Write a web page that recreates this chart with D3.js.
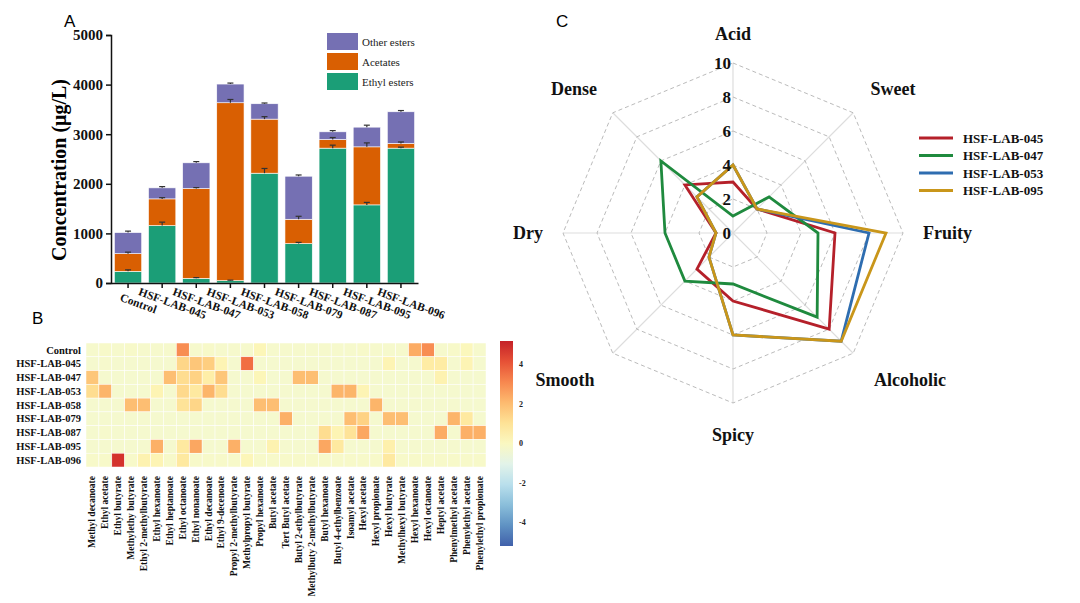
<!DOCTYPE html>
<html>
<head>
<meta charset="utf-8">
<script src="https://cdn.jsdelivr.net/npm/d3@7"></script>
<style>
  body { margin: 0; background: #fff; }
  svg { display: block; }
  .serif { font-family: "Liberation Serif", "Times New Roman", serif; font-weight: bold; }
  .panel { font-family: "Liberation Sans", Arial, sans-serif; font-size: 17px; }
</style>
</head>
<body>
<div id="chart"></div>
<script>
// ---- panel A data ----
const samples = ["Control", "HSF-LAB-045", "HSF-LAB-047", "HSF-LAB-053", "HSF-LAB-058",
  "HSF-LAB-079", "HSF-LAB-087", "HSF-LAB-095", "HSF-LAB-096"];
const ethylEsters = [235, 1157, 94, 47, 2214, 794, 2719, 1575, 2719];
const acetates = [357, 539, 1810, 3587, 1090, 491, 174, 1170, 94];
const otherEsters = [424, 222, 519, 377, 310, 868, 155, 397, 639];
const ethylErr = [30, 70, 15, 10, 95, 25, 60, 50, 20];
const acetErr = [30, 25, 20, 66, 50, 60, 40, 80, 30];
const otherErr = [30, 25, 25, 20, 15, 25, 25, 40, 25];
const yTicksA = [0, 1000, 2000, 3000, 4000, 5000];

// ---- panel B data ----
const compounds = ["Methyl decanoate", "Ethyl acetate", "Ethyl butyrate", "Methylethy butyrate",
  "Ethyl 2-methylbutyrate", "Ethyl hexanoate", "Ethyl heptanoate", "Ethyl octanoate",
  "Ethyl nonanoate", "Ethyl decanoate", "Ethyl 9-decenoate", "Propyl 2-methylbutyrate",
  "Methylpropyl butyrate", "Propyl hexanoate", "Butyl acetate", "Tert Butyl acetate",
  "Butyl 2-ethylbutyrate", "Methylbuty 2-methylbutyrate", "Butyl hexanoate",
  "Butyl 4-ethylbenzoate", "Isoamyl acetate", "Hexyl acetate", "Hexyl propionate",
  "Hexyl butyrate", "Methylhexyl butyrate", "Hexyl hexanoate", "Hexyl octanoate",
  "Heptyl acetate", "Phenylmethyl acetate", "Phenylethyl acetate", "Phenylethyl propionate"];
const rowControl = [-0.25,-0.2,-0.25,-0.2,-0.25,-0.25,-0.25,3.0,-0.25,-0.2,-0.25,-0.25,-0.25,0.2,-0.25,-0.25,-0.25,-0.25,-0.25,-0.25,-0.25,-0.2,-0.25,-0.25,-0.25,2.4,3.0,-0.25,-0.2,0.1,-0.25];
const row045 = [-0.3,-0.25,-0.3,-0.3,-0.3,-0.3,-0.3,1.4,1.8,1.6,0.3,-0.3,3.6,-0.3,-0.3,-0.3,-0.3,-0.3,-0.3,-0.3,-0.3,-0.3,-0.3,0.3,-0.3,-0.3,0.7,0.7,-0.3,0.3,-0.3];
const row047 = [1.8,-0.3,-0.3,-0.3,-0.3,-0.3,2.0,1.2,1.5,0.6,1.8,-0.3,-0.3,0.2,-0.3,-0.3,2.0,2.0,-0.3,-0.3,-0.3,-0.3,-0.3,-0.3,-0.3,-0.3,-0.3,0.4,-0.3,-0.3,-0.3];
const row053 = [1.2,2.2,-0.3,-0.3,-0.3,0.3,-0.3,1.3,0.8,2.2,1.2,-0.3,-0.3,-0.3,-0.3,-0.3,-0.3,-0.3,-0.3,2.2,2.2,0.3,-0.3,-0.3,-0.3,-0.3,-0.3,-0.3,-0.3,-0.3,-0.3];
const row058 = [-0.3,-0.3,-0.3,2.0,2.0,-0.3,-0.3,1.0,1.4,-0.3,-0.3,-0.3,-0.3,2.0,2.0,-0.3,-0.3,-0.3,-0.3,-0.3,-0.3,-0.3,2.2,-0.3,-0.3,-0.3,-0.3,-0.3,-0.3,-0.3,-0.3];
const row079 = [-0.3,-0.3,-0.3,-0.3,-0.3,-0.3,-0.3,-0.3,-0.3,-0.3,-0.3,-0.3,-0.3,-0.3,-0.3,2.3,-0.3,-0.3,-0.3,-0.3,2.0,1.5,-0.3,2.0,2.0,-0.3,-0.3,-0.3,2.2,0.8,-0.3];
const row087 = [-0.3,-0.25,-0.3,-0.3,-0.3,-0.3,-0.3,-0.3,-0.3,-0.3,-0.3,-0.3,-0.3,-0.3,-0.3,-0.3,-0.3,-0.3,1.2,0.3,1.0,2.5,-0.3,-0.3,-0.3,-0.3,-0.3,2.4,-0.3,2.3,2.3];
const row095 = [-0.3,-0.3,-0.3,-0.3,-0.3,2.3,-0.3,0.8,2.5,-0.3,-0.3,2.3,-0.3,-0.3,0.4,-0.3,-0.3,-0.3,2.5,0.8,-0.3,-0.3,-0.3,0.5,-0.3,-0.3,-0.3,-0.3,-0.3,-0.3,-0.3];
const row096 = [-0.2,-0.2,4.8,-0.2,0.4,0.3,-0.2,0.8,-0.2,-0.2,-0.2,-0.2,0.2,-0.2,-0.2,-0.2,-0.2,-0.2,-0.2,-0.2,-0.2,-0.2,-0.2,0.8,-0.2,-0.2,-0.2,-0.2,-0.2,-0.2,-0.2];
const heatRows = [rowControl, row045, row047, row053, row058, row079, row087, row095, row096];
const colorTicks = [4, 2, 0, -2, -4];

// ---- panel C data ----
const attributes = ["Acid", "Sweet", "Fruity", "Alcoholic", "Spicy", "Smooth", "Dry", "Dense"];
const radarSamples = ["HSF-LAB-045", "HSF-LAB-047", "HSF-LAB-053", "HSF-LAB-095"];
const lab045 = [3, 2, 6, 8, 4, 3, 1, 4];
const lab047 = [1, 3, 5, 7, 3, 4, 4, 6];
const lab053 = [4, 2, 8, 9, 6, 2, 1, 3];
const lab095 = [4, 2, 9, 9, 6, 2, 1, 3];
const radarLevels = [0, 2, 4, 6, 8, 10];

const svg = d3.select("#chart").append("svg").attr("width", 1080).attr("height", 603);

// panel letters
svg.append("text").attr("class", "panel").attr("x", 64).attr("y", 27).text("A");
svg.append("text").attr("class", "panel").attr("x", 32).attr("y", 324).text("B");
svg.append("text").attr("class", "panel").attr("x", 556).attr("y", 27).text("C");

// ===== Panel A: stacked bars =====
const x = d3.scaleBand().domain(samples).range([111, 418]).paddingInner(0.2).paddingOuter(0.1);
const y = d3.scaleLinear().domain([0, 5000]).range([283, 35]);
const colA = { ethyl: "#1b9e77", acet: "#d95f02", other: "#7570b3" };

const gA = svg.append("g");
const stacks = samples.map((s, i) => {
  const e = ethylEsters[i], a = acetates[i], o = otherEsters[i];
  return [
    { s, y0: 0, y1: e, c: colA.ethyl, err: ethylErr[i] },
    { s, y0: e, y1: e + a, c: colA.acet, err: acetErr[i] },
    { s, y0: e + a, y1: e + a + o, c: colA.other, err: otherErr[i] }
  ];
}).flat();

gA.selectAll("rect.bar").data(stacks).join("rect")
  .attr("class", "bar")
  .attr("x", d => x(d.s))
  .attr("width", x.bandwidth())
  .attr("y", d => y(d.y1))
  .attr("height", d => y(d.y0) - y(d.y1))
  .attr("fill", d => d.c)
  .attr("stroke", "#fff").attr("stroke-width", 0.6);

const errG = gA.selectAll("g.err").data(stacks).join("g").attr("class", "err")
  .attr("stroke", "#333").attr("stroke-width", 1.2);
errG.append("line")
  .attr("x1", d => x(d.s) + x.bandwidth() / 2).attr("x2", d => x(d.s) + x.bandwidth() / 2)
  .attr("y1", d => y(d.y1)).attr("y2", d => y(d.y1 + d.err));
errG.append("line")
  .attr("x1", d => x(d.s) + x.bandwidth() / 2 - 3).attr("x2", d => x(d.s) + x.bandwidth() / 2 + 3)
  .attr("y1", d => y(d.y1 + d.err)).attr("y2", d => y(d.y1 + d.err));

const yAxisA = gA.append("g").attr("transform", "translate(111,0)")
  .call(d3.axisLeft(y).tickValues(yTicksA).tickSize(5).tickFormat(d3.format("d")));
yAxisA.selectAll("text").attr("class", "serif").style("font-size", "15px").attr("fill", "#111");
yAxisA.select(".domain").attr("stroke", "#111").attr("stroke-width", 1.5);
yAxisA.selectAll(".tick line").attr("stroke", "#111").attr("stroke-width", 1.5);

const xAxisA = gA.append("g").attr("transform", "translate(0,283)")
  .call(d3.axisBottom(x).tickSize(5).tickSizeOuter(0));
xAxisA.select(".domain").attr("stroke", "#111").attr("stroke-width", 1.5);
xAxisA.selectAll(".tick line").attr("stroke", "#111").attr("stroke-width", 1.5);
xAxisA.selectAll("text").attr("class", "serif").style("font-size", "11.5px").attr("fill", "#111")
  .attr("text-anchor", "middle").attr("dy", 0).attr("y", 0)
  .attr("transform", "translate(9,24) rotate(20)");

gA.append("text").attr("class", "serif").attr("transform", "translate(59,170) rotate(-90)")
  .attr("text-anchor", "middle").attr("dy", "0.35em").style("font-size", "20px").text("Concentration (μg/L)");

const legA = [["Other esters", colA.other], ["Acetates", colA.acet], ["Ethyl esters", colA.ethyl]];
const lg = gA.selectAll("g.leg").data(legA).join("g").attr("class", "leg")
  .attr("transform", (d, i) => `translate(327,${33 + i * 20})`);
lg.append("rect").attr("width", 31).attr("height", 17).attr("fill", d => d[1]);
lg.append("text").attr("x", 35).attr("y", 13)
  .style("font-family", "Liberation Serif, serif").style("font-size", "11px").attr("fill", "#222")
  .text(d => d[0]);

// ===== Panel B: heatmap =====
const hx = d3.scaleBand().domain(compounds).range([86, 486]);
const hy = d3.scaleBand().domain(samples).range([343, 467]);
const heatColor = d3.scaleSequential(t => d3.interpolateRdYlBu(1 - t)).domain([-6, 6]);

const cells = heatRows.flatMap((row, r) => row.map((v, c) => ({ s: samples[r], c: compounds[c], v })));
svg.append("g").selectAll("rect").data(cells).join("rect")
  .attr("x", d => hx(d.c)).attr("y", d => hy(d.s))
  .attr("width", hx.bandwidth()).attr("height", hy.bandwidth())
  .attr("fill", d => heatColor(d.v))
  .attr("stroke", "#fff").attr("stroke-width", 0.5);

svg.append("g").selectAll("text").data(samples).join("text")
  .attr("class", "serif").attr("x", 81).attr("y", d => hy(d) + hy.bandwidth() / 2)
  .attr("dy", "0.35em").attr("text-anchor", "end").style("font-size", "10.5px").attr("fill", "#111")
  .text(d => d);

svg.append("g").selectAll("text").data(compounds).join("text")
  .attr("class", "serif")
  .attr("transform", d => `translate(${hx(d) + hx.bandwidth() / 2 + 3},476) rotate(-90)`)
  .attr("text-anchor", "end").style("font-size", "9.5px").attr("fill", "#111")
  .text(d => d);

// colour bar
const cb = d3.scaleLinear().domain([-5.2, 5.2]).range([546, 341]);
const defs = svg.append("defs");
const grad = defs.append("linearGradient").attr("id", "cbar").attr("x1", 0).attr("x2", 0).attr("y1", 1).attr("y2", 0);
d3.range(0, 1.0001, 0.1).forEach(t => {
  grad.append("stop").attr("offset", t).attr("stop-color", heatColor(-5.2 + t * 10.4));
});
svg.append("rect").attr("x", 500).attr("y", 341).attr("width", 13).attr("height", 205).attr("fill", "url(#cbar)");
svg.append("g").selectAll("text").data(colorTicks).join("text")
  .attr("class", "serif").attr("x", 519).attr("y", d => cb(d)).attr("dy", "0.35em")
  .style("font-size", "8px").attr("fill", "#222").text(d => d);

// ===== Panel C: radar =====
const cx = 733, cy = 233;
const rr = d3.scaleLinear().domain([0, 10]).range([0, 170]);
const ang = i => i * Math.PI / 4;
const gC = svg.append("g").attr("transform", `translate(${cx},${cy})`);

gC.selectAll("line.spoke").data(attributes).join("line").attr("class", "spoke")
  .attr("x1", 0).attr("y1", 0)
  .attr("x2", (d, i) => rr(10) * Math.sin(ang(i)))
  .attr("y2", (d, i) => -rr(10) * Math.cos(ang(i)))
  .attr("stroke", "#ddd").attr("stroke-width", 1.2);

const ring = d3.lineRadial().angle((d, i) => ang(i)).radius(d => rr(d)).curve(d3.curveLinearClosed);
gC.selectAll("path.grid").data(radarLevels.slice(1)).join("path").attr("class", "grid")
  .attr("d", lv => ring(attributes.map(() => lv)))
  .attr("fill", "none").attr("stroke", "#bbb").attr("stroke-width", 1).attr("stroke-dasharray", "4,3");

const radarColors = ["#b5202a", "#1f8a3e", "#2e6db0", "#c9961a"];
const radarData = [lab045, lab047, lab053, lab095];
gC.selectAll("path.series").data(radarData).join("path").attr("class", "series")
  .attr("d", d => ring(d))
  .attr("fill", "none").attr("stroke", (d, i) => radarColors[i]).attr("stroke-width", 2.8)
  .attr("stroke-linejoin", "miter");

gC.selectAll("text.lvl").data(radarLevels).join("text").attr("class", "serif lvl")
  .attr("x", -2).attr("y", d => -rr(d)).attr("dy", "0.35em").attr("text-anchor", "end")
  .style("font-size", "17px").attr("fill", "#111").text(d => d);

const labelPos = [
  [0, -199, "middle"], [160, -144, "middle"], [190, 0, "start"], [177, 147, "middle"],
  [0, 202, "middle"], [-168, 147, "middle"], [-190, 0, "end"], [-159, -144, "middle"]
];
gC.selectAll("text.attr").data(attributes).join("text").attr("class", "serif attr")
  .attr("x", (d, i) => labelPos[i][0]).attr("y", (d, i) => labelPos[i][1])
  .attr("dy", "0.35em").attr("text-anchor", (d, i) => labelPos[i][2])
  .style("font-size", "18px").attr("fill", "#111").text(d => d);

const lgC = svg.append("g").selectAll("g").data(radarSamples).join("g")
  .attr("transform", (d, i) => `translate(919,${138 + i * 17.5})`);
lgC.append("line").attr("x1", 0).attr("x2", 34).attr("stroke", (d, i) => radarColors[i]).attr("stroke-width", 2.8);
lgC.append("text").attr("class", "serif").attr("x", 44).attr("dy", "0.35em")
  .style("font-size", "13px").attr("fill", "#111").text(d => d);
</script>
</body>
</html>
